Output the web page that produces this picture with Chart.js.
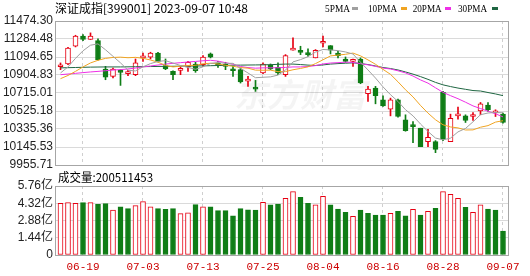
<!DOCTYPE html>
<html><head><meta charset="utf-8">
<script src="https://cdn.jsdelivr.net/npm/chart.js@4.4.1/dist/chart.umd.min.js"></script>
<style>
html,body{margin:0;padding:0;background:#fff;}
#wrap{position:relative;width:530px;height:276px;overflow:hidden;}
#c1{position:absolute;left:0;top:0;}
#c2{position:absolute;left:0;top:170px;}
</style></head><body>
<div id="wrap">
<canvas id="c1" width="530" height="180"></canvas>
<canvas id="c2" width="530" height="106"></canvas>
</div>
<script>
const titleText = '深证成指[399001] 2023-09-07 10:48';
const volText = '成交量:200511453';
const dates = ['06-14','06-15','06-16','06-19','06-20','06-21','06-26','06-27','06-28','06-29','06-30',
 '07-03','07-04','07-05','07-06','07-07','07-10','07-11','07-12','07-13','07-14','07-17','07-18','07-19','07-20','07-21',
 '07-24','07-25','07-26','07-27','07-28','07-31','08-01','08-02','08-03','08-04','08-07','08-08','08-09','08-10','08-11',
 '08-14','08-15','08-16','08-17','08-18','08-21','08-22','08-23','08-24','08-25','08-28','08-29','08-30','08-31','09-01',
 '09-04','09-05','09-06','09-07'];
const tickDates = ['06-19','07-03','07-13','07-25','08-04','08-16','08-28','09-07'];
const openP  = [10992,11021,11208,11314,11279,11268,10968,10890,10954,10919,10908,11085,11092,11137,11003,10943,10954,10989,11021,11014,
 11127,11021,11014,10968,10961,10841,10774,10926,11007,10986,10908,11166,11166,11137,11085,11240,11215,11137,11074,11049,
 11074,10707,10767,10643,10545,10643,10432,10368,10344,10202,10202,10721,10202,10474,10474,10467,10527,10587,10506,10492];
const closeP = [10996,11190,11314,11279,11314,11067,10883,10968,10933,10926,11032,11095,11137,11049,10968,10908,10961,11039,10950,11095,
 11092,11007,10996,10950,10831,10848,10756,11021,10968,10926,11109,11190,11144,11120,11166,11250,11166,11109,11049,11056,
 10820,10756,10686,10580,10643,10467,10319,10361,10150,10248,10121,10227,10449,10481,10425,10474,10601,10538,10513,10404];
const highP  = [11032,11197,11324,11331,11349,11286,10996,10979,10961,10954,11074,11137,11145,11145,11074,10950,10989,11049,11039,11109,
 11137,11049,11039,10996,10979,10890,10848,11032,11021,11032,11120,11296,11208,11180,11173,11314,11215,11155,11095,11074,
 11085,10785,10785,10686,10661,10650,10485,10414,10344,10333,10213,10732,10492,10566,10485,10509,10615,10615,10538,10502];
const lowP   = [10961,11014,11201,11268,11279,11060,10855,10873,10795,10898,10898,11049,11074,11042,10961,10855,10908,10943,10933,10996,
 11085,10986,10961,10890,10820,10785,10732,10919,10961,10908,10890,11166,11120,11102,11085,11201,11127,11085,11039,10996,
 10813,10626,10601,10573,10474,10460,10312,10192,10150,10150,10086,10213,10202,10439,10404,10425,10485,10520,10467,10397];
const ma5  = [10926,10990,11080,11160,11219,11233,11171,11102,11033,10955,10948,10991,11025,11048,11056,11031,11005,10985,10965,10991,
 11027,11037,11028,11028,10975,10926,10876,10881,10885,10904,10956,11043,11067,11098,11146,11174,11169,11162,11148,11126,
 11040,10958,10873,10780,10697,10626,10539,10474,10388,10309,10240,10221,10239,10305,10341,10411,10486,10504,10510,10506];
const ma10 = [10866,10900,10943,10990,11032,11060,11080,11090,11093,11087,11091,11081,11063,11040,11006,10990,10998,11005,11007,11023,
 11029,11021,11007,10997,10983,10977,10956,10955,10956,10940,10941,10960,10974,10991,11025,11065,11106,11115,11123,11136,
 11107,11064,11018,10964,10912,10833,10749,10674,10584,10503,10433,10380,10357,10347,10325,10326,10354,10371,10408,10423];
const ma20 = [10908,10915,10922,10930,10937,10943,10950,10957,10962,10968,10978,10990,11000,11010,11020,11028,11035,11042,11048,11055,
 11060,11051,11035,11019,10994,10983,10977,10980,10981,10981,10985,10990,10990,10994,11004,11021,11031,11035,11040,11038,
 11024,11012,10996,10978,10968,10949,10927,10894,10853,10819,10770,10722,10687,10655,10618,10579,10551,10523,10496,10463];
const ma30 = [10980,10982,10984,10986,10988,10989,10990,10990,10990,10991,10992,10993,10994,10995,10996,10997,10998,10999,11000,11001,
 11003,11005,11006,11008,11009,11010,11011,11012,11014,11017,11020,11020,11015,11009,11005,11011,11020,11025,11029,11033,
 11026,11015,11000,10984,10973,10958,10937,10914,10888,10859,10827,10801,10783,10767,10754,10741,10736,10720,10705,10687];
const volume = [4.32,4.37,4.32,4.37,4.37,4.23,4.29,3.76,4.03,3.87,4.12,4.45,4.03,3.87,3.81,3.87,3.45,3.53,4.20,4.03,
 4.03,3.70,3.70,3.28,3.87,3.78,3.76,4.40,4.18,4.26,4.73,5.29,4.81,4.32,4.18,4.90,4.18,3.84,3.56,3.23,
 3.76,3.48,3.34,3.34,3.48,3.65,3.26,3.81,3.34,3.65,3.90,5.29,5.07,4.73,3.98,3.56,4.18,3.84,3.76,2.005];
const volUp = [1,1,1,0,1,0,0,1,0,0,1,1,1,0,0,0,1,1,0,1,0,0,0,0,0,0,0,1,0,0,
 1,1,0,0,1,1,0,0,0,1,0,0,0,0,1,0,0,1,0,1,0,1,1,1,0,1,1,0,0,0];
const priceTicks = [9955.71,10145.53,10335.36,10525.18,10715.01,10904.83,11094.65,11284.48,11474.30];
const volTicks = [0,1.44,2.88,4.32,5.76];
const maNames = ['5PMA','10PMA','20PMA','30PMA'];

const RED = '#e60012', GREEN = '#0f7d16';
const MA_COLORS = ['#a0a0a0','#f0a422','#ee2fe6','#1f6642'];
const idx = dates.map((d,i)=>i);
const tickIdx = tickDates.map(d=>dates.indexOf(d));
const isUp = idx.map(i=>closeP[i] >= openP[i]);
const XMIN = -0.7333, XMAX = 59.8;
const labelFont = "'Liberation Sans','Noto Sans CJK SC',sans-serif";

const framePlugin = {
  id:'frame',
  afterDraw(chart){
    const a = chart.chartArea, ctx = chart.ctx;
    ctx.save();
    ctx.strokeStyle = '#a6a6a6'; ctx.lineWidth = 1;
    ctx.strokeRect(Math.round(a.left)+0.5, Math.round(a.top)+0.5, Math.round(a.right-a.left)-1, Math.round(a.bottom-a.top));
    ctx.restore();
  }
};
const headPlugin = {
  id:'head',
  beforeDatasetsDraw(chart){
    const ctx = chart.ctx;
    ctx.save();
    ctx.fillStyle = 'rgba(0,0,0,0.045)';
    ctx.font = "italic bold 33px 'Noto Sans CJK SC'";
    ctx.textBaseline = 'middle'; ctx.textAlign = 'left';
    ctx.fillText('东方财富', 234, 94);
    ctx.restore();
  },
  afterDraw(chart){
    const ctx = chart.ctx;
    ctx.save();
    ctx.fillStyle = '#000';
    ctx.textBaseline = 'middle'; ctx.textAlign = 'left';
    ctx.font = "12px 'Noto Sans CJK SC'";
    ctx.fillText(titleText, 55, 8.5, 198);
    const tx = [325,368,412.7,458], sx = [352,400.7,445,491.7], tw = [25,29,29,29];
    ctx.font = "11px 'Liberation Serif'";
    maNames.forEach((n,k)=>{
      ctx.fillStyle = '#000';
      ctx.fillText(n, tx[k], 9.5, tw[k]);
      ctx.fillStyle = MA_COLORS[k];
      ctx.fillRect(Math.round(sx[k]), 7, 6, 3);
    });
    ctx.restore();
  }
};
const volLabelPlugin = {
  id:'vlabel',
  afterDraw(chart){
    const ctx = chart.ctx;
    ctx.save();
    ctx.fillStyle = '#000';
    ctx.textBaseline = 'middle'; ctx.textAlign = 'left';
    ctx.font = "12px 'Noto Sans CJK SC'";
    ctx.fillText(volText, 58, 7.5, 95);
    ctx.restore();
  }
};

function xScale(showTicks){
  return {
    type:'linear', min:XMIN, max:XMAX, offset:false,
    afterFit:s=>{ s.height = showTicks ? 21 : 0; },
    afterBuildTicks:s=>{ s.ticks = tickIdx.map(v=>({value:v})); },
    ticks:{display:showTicks, autoSkip:false, maxRotation:0, padding:5, color:'#cc0000',
      font:{family:"'Liberation Mono',monospace", size:11}, callback:v=>dates[v]},
    grid:{color:'#cfcfcf', drawTicks:false, offset:false},
    border:{display:false, dash:[3,3]}
  };
}
function yScale(ticksArr, fmt){
  return {
    min:ticksArr[0], max:ticksArr[ticksArr.length-1],
    afterFit:s=>{s.width=55;},
    afterBuildTicks:s=>{ s.ticks = ticksArr.map(v=>({value:v})); },
    ticks:{autoSkip:false, padding:2, color:'#222', font:{family:labelFont, size:12}, callback:fmt},
    grid:{color:'#dadada', drawTicks:false}, border:{display:false}
  };
}

const maSets = [ma5,ma10,ma20,ma30].map((arr,k)=>({
  type:'line', label:maNames[k], data:arr.map((v,i)=>({x:i,y:v})),
  borderColor:MA_COLORS[k], borderWidth:1, pointRadius:0, tension:0, order:0
}));

new Chart(document.getElementById('c1'), {
  type:'bar',
  data:{datasets:[
    ...maSets,
    {type:'bar', label:'body', data:idx.map(i=>({x:i,y:[openP[i],closeP[i]]})),
     backgroundColor:idx.map(i=>isUp[i]?'#ffffff':GREEN), borderColor:idx.map(i=>isUp[i]?RED:GREEN),
     borderWidth:1, borderSkipped:false, barThickness:5, grouped:false, minBarLength:2, order:1},
    {type:'bar', label:'wick', data:idx.map(i=>({x:i,y:[lowP[i],highP[i]]})),
     backgroundColor:idx.map(i=>isUp[i]?RED:GREEN), borderWidth:0, barThickness:1, grouped:false, order:2}
  ]},
  options:{
    responsive:false, animation:false, events:[],
    layout:{padding:{top:21, right:21, bottom:15, left:0}},
    plugins:{legend:{display:false}, tooltip:{enabled:false}},
    scales:{ x:xScale(false), y:yScale(priceTicks, v=>v.toFixed(2)) }
  },
  plugins:[framePlugin, headPlugin]
});

new Chart(document.getElementById('c2'), {
  type:'bar',
  data:{datasets:[
    {label:'volume', data:idx.map(i=>({x:i,y:volume[i]})),
     backgroundColor:idx.map(i=>volUp[i]?'#ffffff':GREEN), borderColor:idx.map(i=>volUp[i]?RED:GREEN),
     borderWidth:1, borderSkipped:false, barThickness:5, grouped:false}
  ]},
  options:{
    responsive:false, animation:false, events:[],
    layout:{padding:{top:16, right:21, bottom:0, left:0}},
    plugins:{legend:{display:false}, tooltip:{enabled:false}},
    scales:{ x:xScale(true), y:yScale(volTicks, v=> v===0 ? '0' : v.toFixed(2)+'亿') }
  },
  plugins:[framePlugin, volLabelPlugin]
});
</script>
</body></html>
